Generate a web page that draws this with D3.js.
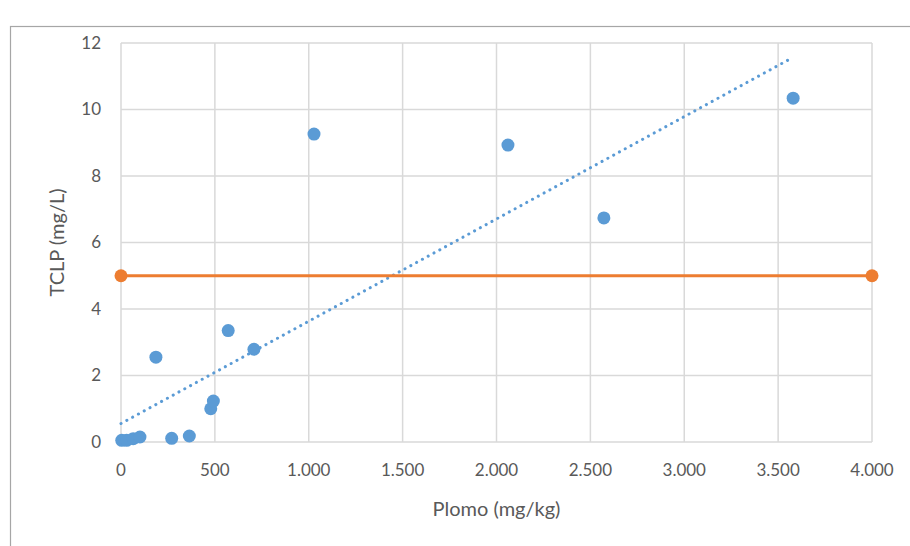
<!DOCTYPE html>
<meta charset="utf-8">
<script src="https://d3js.org/d3.v7.min.js"></script>
<style>
  body { margin: 0; background: #fff; }
  text { font-family: Lato, "Open Sans", sans-serif; fill: #595959; }
</style>
<div id="my_dataviz"></div>
<script>
// data
var plomo = [4, 30, 65, 101, 270, 364, 478, 492, 186, 571, 708, 1028, 2061, 2572, 3580];
var tclp  = [0.05, 0.05, 0.1, 0.15, 0.11, 0.18, 1.0, 1.23, 2.55, 3.35, 2.79, 9.26, 8.93, 6.74, 10.34];
var limitX = [0, 4000];
var limitY = [5, 5];
var xTicks = [0, 500, 1000, 1500, 2000, 2500, 3000, 3500, 4000];
var yTicks = [0, 2, 4, 6, 8, 10, 12];

var W = 910, H = 546;
var margin = {top: 43, left: 121, right: 38, bottom: 104};

var svg = d3.select("#my_dataviz").append("svg")
  .attr("width", W).attr("height", H);

// chart frame (cropped on right / bottom)
svg.append("rect")
  .attr("x", 10.5).attr("y", 26.5)
  .attr("width", 1000).attr("height", 1000)
  .attr("fill", "none").attr("stroke", "#a6a6a6").attr("stroke-width", 1.2);

var x = d3.scaleLinear().domain([0, 4000]).range([margin.left, W - margin.right]);
var y = d3.scaleLinear().domain([0, 12]).range([H - margin.bottom, margin.top]);

var loc = d3.formatLocale({decimal: ",", thousands: ".", grouping: [3], currency: ["", ""]});
var fmt = loc.format(",d");

// gridlines
svg.append("g").selectAll("line").data(xTicks).enter().append("line")
  .attr("x1", d => x(d)).attr("x2", d => x(d))
  .attr("y1", y(12)).attr("y2", y(0))
  .attr("stroke", "#d9d9d9").attr("stroke-width", 1.5);
svg.append("g").selectAll("line").data(yTicks).enter().append("line")
  .attr("x1", x(0)).attr("x2", x(4000))
  .attr("y1", d => y(d)).attr("y2", d => y(d))
  .attr("stroke", "#d9d9d9").attr("stroke-width", 1.5);

// tick labels
svg.append("g").selectAll("text").data(yTicks).enter().append("text")
  .attr("x", 101).attr("y", d => y(d)).attr("dy", "0.35em")
  .attr("text-anchor", "end").style("font-size", "17px")
  .text(d => d);
svg.append("g").selectAll("text").data(xTicks).enter().append("text")
  .attr("x", d => x(d)).attr("y", 470).attr("dy", "0.35em")
  .attr("text-anchor", "middle").style("font-size", "17px")
  .text(d => fmt(d));

// axis titles
svg.append("text")
  .attr("x", (x(0) + x(4000)) / 2).attr("y", 509).attr("dy", "0.35em")
  .attr("text-anchor", "middle").style("font-size", "20px")
  .text("Plomo (mg/kg)");
svg.append("text")
  .attr("transform", "translate(57," + ((y(0) + y(12)) / 2) + ") rotate(-90)")
  .attr("dy", "0.35em")
  .attr("text-anchor", "middle").style("font-size", "20px")
  .text("TCLP (mg/L)");

// linear trendline (least squares on the points)
var n = plomo.length;
var mx = d3.mean(plomo), my = d3.mean(tclp);
var sxy = 0, sxx = 0;
for (var i = 0; i < n; i++) {
  sxy += (plomo[i] - mx) * (tclp[i] - my);
  sxx += (plomo[i] - mx) * (plomo[i] - mx);
}
var slope = sxy / sxx, icpt = my - slope * mx;
var tx = [0, d3.max(plomo)];
svg.append("line")
  .attr("x1", x(tx[0])).attr("y1", y(icpt + slope * tx[0]))
  .attr("x2", x(tx[1])).attr("y2", y(icpt + slope * tx[1]))
  .attr("stroke", "#5b9bd5").attr("stroke-width", 3)
  .attr("stroke-linecap", "round").attr("stroke-dasharray", "0.1 6.5");

// limit line
var lim = limitX.map((d, i) => [d, limitY[i]]);
svg.append("path")
  .datum(lim)
  .attr("d", d3.line().x(d => x(d[0])).y(d => y(d[1])))
  .attr("fill", "none").attr("stroke", "#ed7d31").attr("stroke-width", 3);
svg.append("g").selectAll("circle").data(lim).enter().append("circle")
  .attr("cx", d => x(d[0])).attr("cy", d => y(d[1])).attr("r", 6.5)
  .attr("fill", "#ed7d31");

// scatter points
svg.append("g").selectAll("circle").data(plomo).enter().append("circle")
  .attr("cx", (d) => x(d)).attr("cy", (d, i) => y(tclp[i])).attr("r", 6.5)
  .attr("fill", "#5b9bd5");
</script>
